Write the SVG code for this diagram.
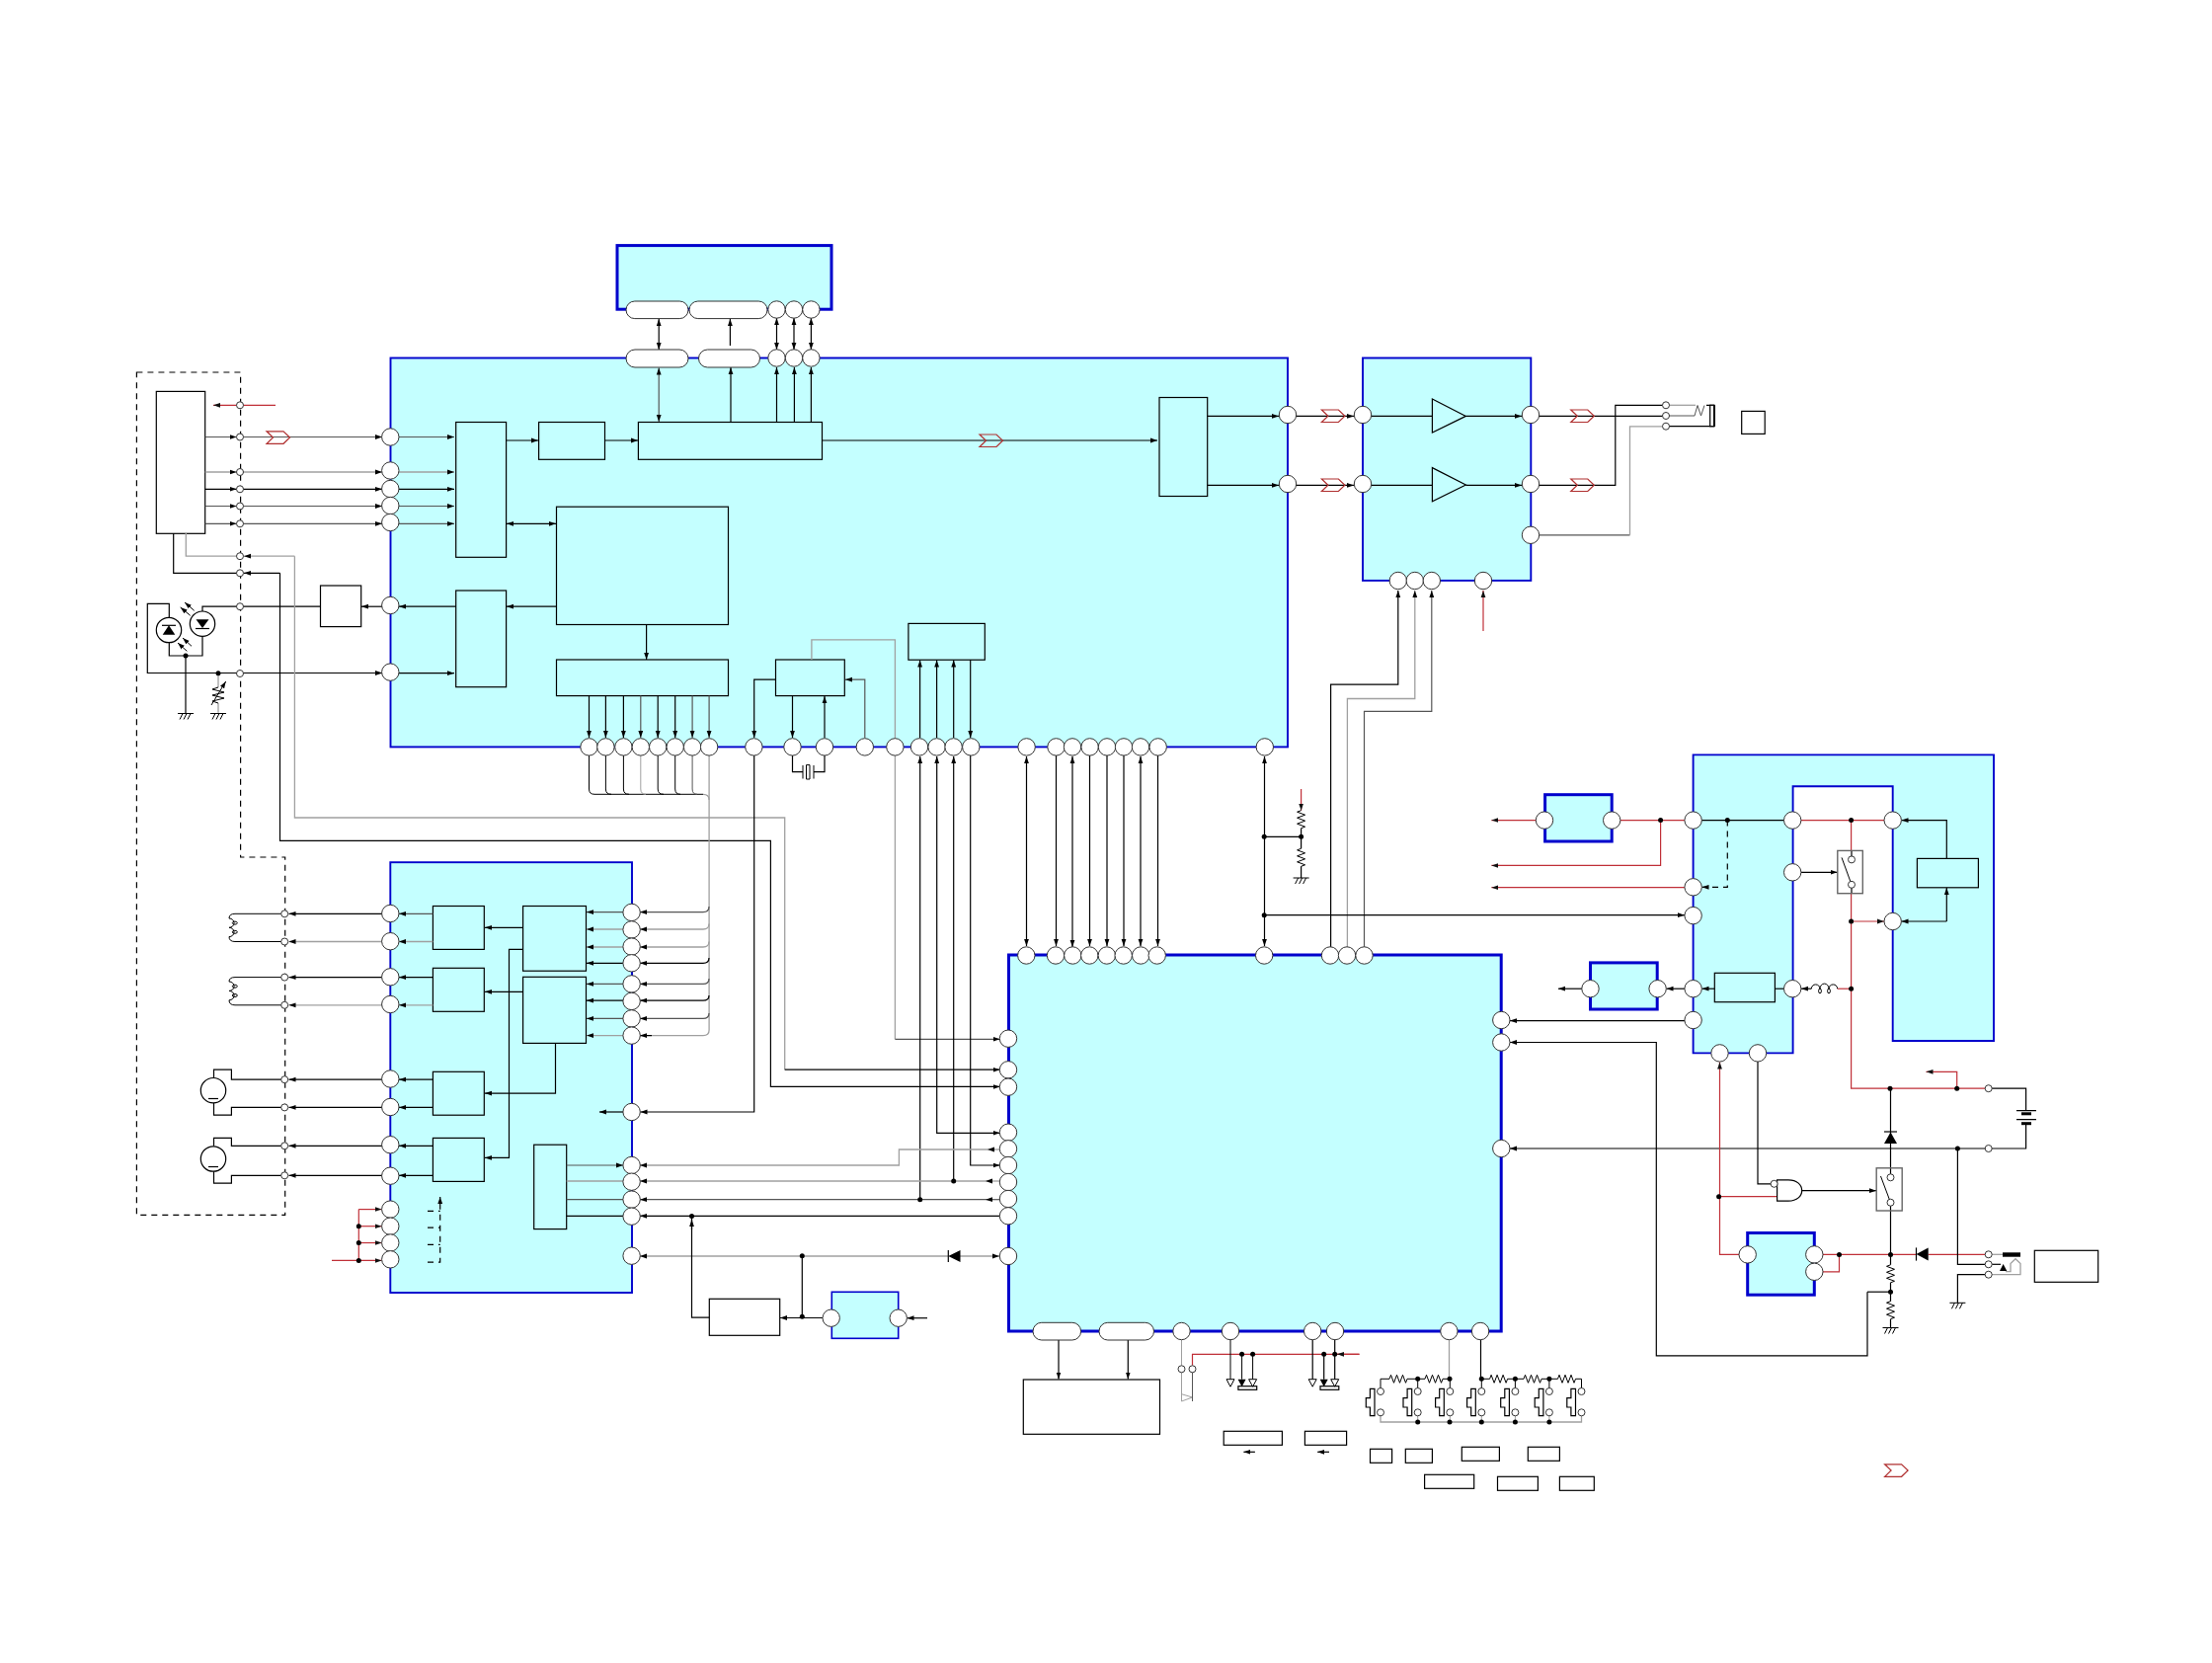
<svg xmlns="http://www.w3.org/2000/svg" width="2240" height="1684" viewBox="0 0 2240 1684">
<style>
.b{fill:#c4ffff;stroke:#0000cc;stroke-width:1.9}
.bt{fill:#c4ffff;stroke:#0000cc;stroke-width:3}
.i{fill:#c4ffff;stroke:#000;stroke-width:1.2}
.w{fill:#fff;stroke:#000;stroke-width:1.2}
.n{fill:none;stroke:#000;stroke-width:1.2}
.k{stroke:#000;stroke-width:1.2;fill:none}
.g{stroke:#a0a0a0;stroke-width:1.3;fill:none}
.d{stroke:#555;stroke-width:1.2;fill:none}
.r{stroke:#c03038;stroke-width:1.2;fill:none}
.t{stroke-width:1}
.dash{stroke-dasharray:6 5}
.ae{marker-end:url(#a)}
.as{marker-start:url(#a)}
.ar{marker-end:url(#ar)}
.p{fill:#fff;stroke:#333;stroke-width:1}
.dot{fill:#000}
.chev{fill:none;stroke:#b03030;stroke-width:1.2}
.fk{fill:#000;stroke:none}
.to{fill:#fff;stroke:#000;stroke-width:1}
</style>
<defs>
<marker id="a" markerUnits="userSpaceOnUse" markerWidth="8" markerHeight="6" refX="7" refY="3" orient="auto-start-reverse"><path d="M0 .6L7 3L0 5.4Z" fill="#000"/></marker>
<marker id="ar" markerUnits="userSpaceOnUse" markerWidth="8" markerHeight="6" refX="7" refY="3" orient="auto"><path d="M0 .6L7 3L0 5.4Z" fill="#111"/></marker>
<circle id="o" r="8.7" class="p"/>
<circle id="c" r="3.5" class="p"/>
<circle id="j" r="2.5" class="dot"/>
<path id="gnd" d="M-8 0H8M-3 0L-6 6M1 0L-2 6M5 0L2 6" stroke="#000" stroke-width="1" fill="none"/>
<path id="rv" d="M0 0L-4 1.5L4 4.5L-4 7.5L4 10.5L-4 13.5L4 16.5L0 18" stroke="#000" stroke-width="1" fill="none"/>
<path id="rh" d="M0 0L1.5-4L4.5 4L7.5-4L10.5 4L13.5-4L16.5 4L18 0" stroke="#000" stroke-width="1" fill="none"/>
<path id="key" d="M-10.6 0H-6V27.4H-10.6V18.7H-14.7V9.4H-10.6Z" class="n"/>
<path id="chev" d="M0 0H17L23.5 6.2L17 12.5H0L6.5 6.2Z" class="chev"/>
<path id="to" d="M-4 0H4L0 7.5Z" class="to"/>
<path id="tf" d="M-4 0H4L0 7.5Z" class="fk"/>
</defs>
<rect width="2240" height="1684" fill="#fff"/>

<g id="blocks">
<g id="flash-ic"><rect class="bt" x="625" y="248.6" width="217" height="64.6"/></g>
<g id="main-ic"><rect class="b" x="395.5" y="362.5" width="908.5" height="393.9"/>
<rect class="i" x="461.7" y="427.5" width="50.9" height="136.8"/>
<rect class="i" x="545.6" y="427.5" width="66.9" height="37.8"/>
<rect class="i" x="646.4" y="427.5" width="186.1" height="37.8"/>
<rect class="i" x="563.5" y="513.2" width="174" height="119.3"/>
<rect class="i" x="461.7" y="598" width="50.9" height="97.7"/>
<rect class="i" x="563.5" y="668" width="174" height="36.6"/>
<rect class="i" x="785.5" y="668" width="69.8" height="36.6"/>
<rect class="i" x="919.9" y="631.4" width="77.4" height="36.8"/>
<rect class="i" x="1174" y="402.5" width="48.7" height="100"/>
</g>
<g id="amp-ic"><rect class="b" x="1380" y="362.5" width="170.3" height="225.4"/>
<path class="i" d="M1450.4 404L1484.4 421.4L1450.4 438Z"/>
<path class="i" d="M1450.4 473.6L1484.4 491L1450.4 507.9Z"/>
</g>
<g id="driver-ic"><rect class="b" x="395.3" y="873.2" width="244.7" height="435.8"/>
<rect class="i" x="438.4" y="917.5" width="51.9" height="43.9"/>
<rect class="i" x="438.4" y="980.3" width="51.9" height="44"/>
<rect class="i" x="438.4" y="1085.3" width="51.9" height="43.9"/>
<rect class="i" x="438.4" y="1152.4" width="51.9" height="44"/>
<rect class="i" x="529.6" y="917.5" width="63.9" height="65.7"/>
<rect class="i" x="529.6" y="989.3" width="63.9" height="67.1"/>
<rect class="i" x="540.7" y="1159.2" width="33" height="85.4"/>
</g>
<g id="mcu-ic"><rect class="bt" x="1021.5" y="967" width="498.7" height="381"/></g>
<g id="power-ic"><path class="b" d="M1714.6 764.4H2019V1054H1916.7V796.3H1815.6V1066.4H1714.6Z"/>
<rect class="i" x="1941.4" y="869.4" width="62" height="29.4"/>
<rect class="i" x="1736.3" y="985.3" width="61.1" height="29.4"/>
</g>
<g id="reg-1"><rect class="bt" x="1564.6" y="804.7" width="67.6" height="47.3"/></g>
<g id="reg-2"><rect class="bt" x="1610.5" y="974.9" width="67.7" height="47.1"/></g>
<g id="reg-3"><rect class="bt" x="1769.7" y="1248.5" width="67.6" height="62.7"/></g>
<g id="reg-4"><rect class="b" style="stroke-width:1.6" x="842.3" y="1308.3" width="67.4" height="47"/></g>
<g id="pickup-connector"><rect class="w" x="158.3" y="396.4" width="49.4" height="143.9"/></g>
<g id="laser-driver"><rect class="w" x="324.5" y="593" width="41.2" height="41.6"/></g>
<g id="sdram"><rect class="w" x="1036.3" y="1397" width="138.2" height="55.3"/></g>
<g id="reset-box"><rect class="w" x="718.3" y="1315.3" width="71.4" height="37"/></g>
<g id="jack-label"><rect class="w" x="1763.7" y="416.4" width="23.5" height="23"/></g>
<g id="dc-label"><rect class="w" x="2060.3" y="1266.3" width="64.4" height="32"/></g>
<g id="key-labels">
<rect class="w" x="1239.2" y="1449.3" width="59.2" height="14"/>
<rect class="w" x="1321.4" y="1449.3" width="42.2" height="14"/>
<rect class="w" x="1387.5" y="1467.3" width="22.1" height="14"/>
<rect class="w" x="1423.3" y="1467.3" width="27.1" height="14"/>
<rect class="w" x="1480.3" y="1465.3" width="38.1" height="14"/>
<rect class="w" x="1547.3" y="1465.3" width="32.1" height="14"/>
<rect class="w" x="1442.6" y="1493.3" width="50.1" height="14"/>
<rect class="w" x="1516.5" y="1495.3" width="40.9" height="14"/>
<rect class="w" x="1579.4" y="1495.3" width="34.9" height="14"/>
</g>
</g>

<g id="connectors">
<path class="k ae as" d="M667.2 323V354"/><path class="k ae" d="M739.4 350V323"/>
<path class="k ae as" d="M786.5 322V354"/><path class="k ae as" d="M804 322V354"/><path class="k ae as" d="M821.4 322V354"/>
<path class="d ae as" d="M667.2 372.5V427"/><path class="k ae" d="M740 427.5V372"/>
<path class="k ae" d="M786.5 427.5V372"/><path class="k ae" d="M804.4 427.5V372"/><path class="k ae" d="M821.4 427.5V372"/>
<path class="r ar" d="M279 410.3H216"/>
<path class="d t ae" d="M207.7 442.5H239.5"/><path class="d t ae" d="M243 442.5H387"/><path class="d t ae" d="M404 442.5H460"/>
<path class="g ae" d="M207.7 478H239.5"/><path class="g ae" d="M243 478H387"/><path class="g ae" d="M404 478H460"/>
<path class="k ae" d="M207.7 495.3H239.5"/><path class="k ae" d="M243 495.3H387"/><path class="k ae" d="M404 495.3H460"/>
<path class="d t ae" d="M207.7 512.5H239.5"/><path class="d t ae" d="M243 512.5H387"/><path class="d t ae" d="M404 512.5H460"/>
<path class="d ae" d="M207.7 530.3H239.5"/><path class="d ae" d="M243 530.3H387"/><path class="d ae" d="M404 530.3H460"/>
<path class="k ae" d="M512.6 446H545"/><path class="k ae" d="M612.5 446H646"/>
<path class="k ae as" d="M513 530.3H563"/>
<path class="k ae" d="M832.5 446H1172"/>
<path class="k ae" d="M654.6 632.5V668"/>
<path class="k ae" d="M563.5 614.2H513"/><path class="k ae" d="M461.7 614.2H404"/><path class="k ae" d="M395 614.2H366"/>
<path class="k" d="M324.5 614.2H205V619"/>
<path class="k" d="M171.3 625.3V611.3H149.3V681.5H395"/><path class="k ae" d="M380 681.5H387"/><path class="k ae" d="M404 681.7H460"/>
<path class="k" d="M171.3 650.7V664H205V644.4"/><path class="k" d="M188 664V722.5"/>
<path class="g" d="M221 681.7V696M221 712V721.7"/>
<path class="k t" d="M221 696L215 698L227 701L215 704L227 707L215 710L221 712"/>
<path class="k t ae" d="M214 714L228.7 690"/>
<path class="k t ae" d="M192.7 623.3L182.7 615"/><path class="k t ae" d="M196.7 618.3L187 610"/>
<path class="k t ae" d="M189.3 659.3L180 651"/><path class="k t ae" d="M194 654.3L185 646"/>
<path class="g" d="M188.3 540V563.2H243"/><path class="g ae" d="M298.4 563.2H247"/>
<path class="k" d="M175.7 540V580.3H243"/><path class="k ae" d="M283.5 580.3H247"/>
<path class="g" d="M298.4 563.2V828H794.7V1083.2"/><path class="k ae" d="M794.7 1083.2H1012.5"/>
<path class="k ae" d="M283.5 580.3V851.4H780.4V1100.4H1012.5"/>
<path class="k ae" d="M596.5 704.6V747"/><path class="k ae" d="M613.4 704.6V747"/><path class="k ae" d="M631.4 704.6V747"/><path class="d ae" d="M648.8 704.6V747"/><path class="k ae" d="M666.2 704.6V747"/><path class="k ae" d="M683.7 704.6V747"/><path class="d ae" d="M701.1 704.6V747"/><path class="d ae" d="M718.1 704.6V747"/>
<path class="k t" d="M596.5 765V799Q596.5 804.3 602 804.3H712"/><path class="k t" d="M613.4 765V799Q613.4 804.3 619 804.3"/><path class="k t" d="M631.4 765V799Q631.4 804.3 637 804.3"/><path class="g t" d="M648.8 765V799Q648.8 804.3 654 804.3"/><path class="k t" d="M666.2 765V799Q666.2 804.3 672 804.3"/><path class="k t" d="M683.7 765V799Q683.7 804.3 689 804.3"/><path class="d t" d="M701.1 765V799Q701.1 804.3 706 804.3"/>
<path class="g" d="M718.1 765V1043Q718.1 1048.6 712 1048.6H648"/><path class="k ae" d="M660 1048.6H648"/>
<path class="g" d="M712 804.3Q718.1 804.3 718.1 810"/>
<path class="d ae" d="M718 918Q718 923.6 712 923.6H648"/><path class="g ae" d="M718 935.5Q718 941 712 941H648"/><path class="g ae" d="M718 953.5Q718 959 712 959H648"/><path class="k ae" d="M718 970Q718 975.3 712 975.3H648"/><path class="d ae" d="M718 991Q718 996.4 712 996.4H648"/><path class="k ae" d="M718 1008Q718 1013.2 712 1013.2H648"/><path class="d ae" d="M718 1026Q718 1031.4 712 1031.4H648"/>
<path class="k ae" d="M785.5 688.2H763.7V747"/><path class="k ae" d="M802.5 704.6V747"/><path class="k ae" d="M835 747V705"/>
<path class="d ae" d="M875.8 747V688.2H856"/>
<path class="g" d="M821.9 668V647.9H906.4V1052.3"/><path class="d ae" d="M906.4 1052.3H1012.5"/>
<path class="k" d="M802.5 765V781.7H813M824 781.7H835V765"/>
<path class="k t" d="M813 775V788.5M824 775V788.5"/>
<path class="k t" d="M816.5 774.6h3.5V789h-3.5Z"/>
<path class="k ae" d="M931.6 747V668.5"/><path class="k ae" d="M948.6 747V668.5"/><path class="k ae" d="M965.7 747V668.5"/><path class="k ae" d="M982.7 668.2V747"/>
<path class="k ae" d="M931.7 1214.7V766"/><path class="k ae as" d="M948.7 766V1147.3H1012.5"/><path class="k ae" d="M965.7 1196V766"/><path class="k ae" d="M982.7 765V1180H1012.5"/>
<path class="g ae" d="M1012 1164H1000"/><path class="g ae" d="M1000 1164H910.4V1180H648"/>
<path class="g ae" d="M1012 1196H998"/><path class="g ae" d="M998 1196H648"/>
<path class="d ae" d="M1012 1214.7H998"/><path class="d ae" d="M998 1214.7H648"/>
<path class="k ae" d="M1012.5 1231.3H648"/>
<path class="g ae" d="M960 1272H648"/><path class="g ae" d="M972 1272H1012"/>
<path class="k" d="M812.3 1272V1334"/><path class="k ae" d="M833 1334.5H790"/><path class="k ae" d="M939 1334.7H918.5"/>
<path class="k" d="M700.5 1231V1334.2H718.3"/><path class="k ae" d="M700.5 1245V1235"/>
<path class="k ae" d="M763.7 765V1126H648.5"/><path class="k ae" d="M631 1126H607"/>
<path class="d ae" d="M438.4 925.3H404"/><path class="g ae" d="M438.4 953.5H404"/><path class="k ae" d="M438.4 989.6H404"/><path class="g ae" d="M438.4 1017.8H404"/>
<path class="k ae" d="M438.4 1093.2H404"/><path class="k ae" d="M438.4 1121.4H404"/><path class="k ae" d="M438.4 1160.3H404"/><path class="k ae" d="M438.4 1190.3H404"/>
<path class="k ae" d="M395 925.3H292.5"/><path class="g ae" d="M395 953.5H292.5"/><path class="k ae" d="M395 989.6H292.5"/><path class="g ae" d="M395 1017.8H292.5"/>
<path class="k ae" d="M395 1093.2H292.5"/><path class="k ae" d="M395 1121.4H292.5"/><path class="k ae" d="M395 1160.3H292.5"/><path class="k ae" d="M395 1190.3H292.5"/>
<path class="k t" d="M288 925.3H238Q232 925.3 232 930A5 4.6 0 0 1 232 939.3A5 4.6 0 0 1 232 948.6Q232 953.5 238 953.5H288"/>
<path class="k t" d="M288 989.6H238Q232 989.6 232 994A5 4.6 0 0 1 232 1003.4A5 4.6 0 0 1 232 1012.8Q232 1017.8 238 1017.8H288"/>
<ellipse class="k t" cx="237.8" cy="934.6" rx="2.5" ry="1.5"/><ellipse class="k t" cx="237.8" cy="943.8" rx="2.5" ry="1.5"/><ellipse class="k t" cx="237.8" cy="998.7" rx="2.5" ry="1.5"/><ellipse class="k t" cx="237.8" cy="1008" rx="2.5" ry="1.5"/>
<path class="k" d="M288 1093.2H234.4V1083.2H216.5V1091.5M216.5 1117V1129.2H234.4V1121.4H288"/>
<path class="k" d="M288 1160.3H234.4V1152.4H216.5V1160.6M216.5 1186.2V1198.2H234.4V1190.3H288"/>
<path class="d ae" d="M631 923.6H594"/><path class="g ae" d="M631 941H594"/><path class="g ae" d="M631 959H594"/><path class="k ae" d="M631 975.3H594"/><path class="d ae" d="M631 996.4H594"/><path class="k ae" d="M631 1013.2H594"/><path class="d ae" d="M631 1031.4H594"/><path class="g ae" d="M631 1048.6H594"/>
<path class="k ae" d="M529.6 939.3H491"/><path class="k ae" d="M529.6 1004.3H491"/>
<path class="k ae" d="M529.6 961.4H515.5V1172.4H491"/><path class="k ae" d="M562.5 1056.4V1107.1H491"/>
<path class="d ae" d="M573.7 1180H631"/><path class="g" d="M573.7 1196H631"/><path class="d" d="M573.7 1214.6H631"/><path class="k" d="M573.7 1231.4H631"/>
<path class="r ar" d="M363.3 1224.6H386.5"/><path class="r ar" d="M363.3 1241.7H386.5"/><path class="r ar" d="M363.3 1258.5H386.5"/><path class="r ar" d="M336 1276.4H386.5"/><path class="r" d="M363.3 1276.4V1224.6"/>
<path class="k dash ae" d="M433 1278.1H445.7V1212"/><path class="k dash" d="M433 1226.4H445.7M433 1243.1H445.7M433 1260.3H445.7"/>
<path class="k ae" d="M1222.7 421.4H1295"/><path class="k ae" d="M1222.7 491.4H1295"/>
<path class="k ae" d="M1312 421.4H1371"/><path class="k ae" d="M1312 491.4H1371"/>
<path class="k" d="M1389 421.4H1450.4M1389 491.4H1450.4"/>
<path class="k ae" d="M1484.4 421.4H1541"/><path class="k ae" d="M1484.4 491.4H1541"/>
<path class="k" d="M1558 421.4H1683.5"/><path class="k" d="M1558 491.4H1635.8V410.4H1683.5"/>
<path class="d" d="M1558 541.8H1650.5"/><path class="g" d="M1650.5 541.8V431.8H1683.5"/>
<path class="g" d="M1690 410.3H1717"/><path class="d t" d="M1690 421H1716L1719 410.5L1722.5 421L1726 410.5"/>
<path class="k" d="M1690 431.7H1736M1728 410.3H1736"/>
<rect class="w" x="1731.7" y="410.3" width="4.3" height="21.4"/><path class="k" d="M1736 410.3V431.7" style="stroke-width:2"/>
<path class="k ae" d="M1347.6 959V693.2H1415.8V598"/><path class="g ae" d="M1364.4 959V707.5H1432.8V598"/><path class="d ae" d="M1381.5 959V720.3H1449.8V598"/>
<path class="r ar" d="M1502 639V598"/>
<path class="k ae as" d="M1039.5 766V958"/>
<path class="k ae" d="M1069.5 765V958"/><path class="k ae as" d="M1086 766V959"/><path class="k ae" d="M1103.5 765V958"/><path class="k ae" d="M1121 765V958"/><path class="k ae" d="M1138 765V958"/><path class="k ae as" d="M1155 766V958"/><path class="k ae" d="M1172.5 765V958"/>
<path class="k ae as" d="M1280.5 766V958"/>
<path class="k" d="M1280.2 847.3H1317.6"/><path class="k ae" d="M1280.2 926.7H1706"/>
<path class="r ar" d="M1317.6 799V820.7"/>
<use href="#rv" x="1317.6" y="820.7"/><path class="k" d="M1317.6 838.7V859.3"/>
<use href="#rv" x="1317.6" y="859.3"/><path class="k" d="M1317.6 877.3V889"/>
<path class="r ar" d="M1556 830.6H1510.4"/>
<path class="r" d="M1641 830.6H1706"/>
<path class="r ar" d="M1681.6 830.6V876.4H1510.4"/>
<path class="r ar" d="M1706 898.7H1510.4"/>
<path class="k" d="M1723 830.6H1807"/>
<path class="k dash ae" d="M1749.3 830.6V898.3H1723.5"/>
<path class="r" d="M1824 830.6H1908"/>
<path class="r" d="M1874.6 830.6V861.4M1874.6 904.7V1102.2H2010"/>
<path class="k" d="M1875 861.4V870M1875 895.8V904.7"/>
<path class="k" d="M2017 1102.2H2051.6V1124.6"/>
<path class="r ar" d="M1981.7 1102.2V1085.3H1950.5"/>
<path class="k" d="M2051.6 1137.6V1163H2017"/>
<path class="k ae" d="M2010 1163H1529"/>
<path class="r ar" d="M1874.6 933H1908"/>
<path class="k ae" d="M1971.3 869.4V830.6H1925.5"/><path class="k ae" d="M1971.3 933H1925.5"/><path class="k ae" d="M1971.3 933V899"/>
<path class="k ae" d="M1824 883.3H1860.5"/>
<path class="r" d="M1860.7 1001.2H1874.6"/>
<path class="k t" d="M1834.3 1001.2A4.4 5 0 0 1 1843 1001.2A4.4 5 0 0 1 1852 1001.2A4.4 5 0 0 1 1860.7 1001.2"/>
<ellipse class="k t" cx="1843" cy="1003.5" rx="1.4" ry="2.4"/><ellipse class="k t" cx="1852" cy="1003.5" rx="1.4" ry="2.4"/>
<path class="k ae" d="M1834.3 1001.2H1824"/>
<path class="k" d="M1797.4 1001.2H1807"/><path class="k ae" d="M1736.3 1001.2H1723.5"/><path class="k ae" d="M1706 1001.2H1687.5"/><path class="k ae" d="M1602 1001.2H1578"/>
<path class="k ae" d="M1706 1033.6H1529"/>
<path class="k ae" d="M1891 1308.2V1372.9H1677.3V1055.5H1529"/><path class="k" d="M1891 1308.2H1914.5"/>
<path class="r ar" d="M1761 1270.4H1741.5V1075.5"/><path class="r" d="M1741.5 1211.7H1799.6"/>
<path class="k" d="M1780 1075V1198.8H1793"/>
<path class="k ae" d="M1824.7 1205.7H1900"/>
<path class="r" d="M1846 1270.4H1940.5M1952.7 1270.4H2010"/><path class="r" d="M1862.5 1270.4V1287.8H1846"/>
<path class="k" d="M1914.5 1102.2V1189M1914.5 1221V1280.8M1914.5 1298.8V1317.7M1914.5 1335.7V1344.5"/>
<use href="#rv" x="1914.5" y="1280.8"/><use href="#rv" x="1914.5" y="1317.7"/>
<path class="k" d="M1982.4 1163V1280.3H2010"/>
<path class="k" d="M2010 1290.7H1982.4V1319.3"/>
<path class="g" d="M2017 1270.3H2028"/><path class="k" d="M2017 1280.3H2026"/>
<path class="g" d="M2017 1290.7H2046V1279.5L2041 1274.7L2036 1279.5V1287.7H2031"/>
<path class="k ae" d="M1072 1357V1396.5"/><path class="k ae" d="M1142.3 1357V1396.5"/>
<path class="g t" d="M1196.5 1357V1382.8M1196.5 1389.8V1419L1207.5 1415L1196.5 1411.7"/>
<path class="d t" d="M1207.5 1389.8V1419"/>
<path class="r" d="M1207.5 1382.8V1371.3H1376.5"/><path class="r ar" d="M1376.5 1371.3H1354"/>
<path class="k t" d="M1246 1357V1396.7M1257.6 1371.3V1396.7M1268.6 1371.3V1396.7"/>
<path class="k" d="M1329.2 1357V1396.7M1340.7 1371.3V1396.7M1351.7 1357V1396.7"/>
<path class="k ae" d="M1270.9 1470.3H1259.4"/><path class="k ae" d="M1346 1470.3H1334.2"/>
<path class="g" d="M1467.5 1357V1396.3"/><path class="k" d="M1499.5 1357V1396.3"/>
<path class="k t" d="M1398 1406V1396.3H1407M1425 1396.3H1443M1461 1396.3H1468.3M1435.7 1396.3V1406M1468.3 1396.3V1406M1500.3 1396.3H1508.6M1526.6 1396.3H1543M1561 1396.3H1577.5M1595.5 1396.3H1601.5V1406M1500.3 1396.3V1406M1534.4 1396.3V1406M1568.9 1396.3V1406"/>
<use href="#rh" x="1407" y="1396.3"/><use href="#rh" x="1443" y="1396.3"/><use href="#rh" x="1508.6" y="1396.3"/><use href="#rh" x="1543" y="1396.3"/><use href="#rh" x="1577.5" y="1396.3"/>
<path class="g" d="M1398 1433.5V1440H1601.5V1433.5"/>
<path class="g t" d="M1435.7 1433.5V1440M1468.3 1433.5V1440M1500.3 1433.5V1440M1534.4 1433.5V1440M1568.9 1433.5V1440"/>
</g>

<g id="symbols">
<use href="#gnd" x="188" y="722.5"/><use href="#gnd" x="221" y="722.5"/><use href="#gnd" x="1317.6" y="889"/><use href="#gnd" x="1914.5" y="1344.5"/><use href="#gnd" x="1982.4" y="1319.3"/>
<use href="#chev" x="270" y="436.8"/><use href="#chev" x="992" y="440"/><use href="#chev" x="1338.4" y="415"/><use href="#chev" x="1338.4" y="485"/><use href="#chev" x="1590.8" y="415"/><use href="#chev" x="1590.8" y="485"/><use href="#chev" x="1908.6" y="1482.8"/>
<path id="pickup-outline" class="k dash" d="M138.4 377H243.6V868H288.7V1230.3H138.4Z"/>
<g id="diode-1"><circle cx="171" cy="638" r="12.7" class="n"/><path class="fk" d="M171 633.3L177.3 642.7H164.7Z"/><path class="n" d="M164 633.3H178"/></g>
<g id="diode-2"><circle cx="205" cy="631.7" r="12.7" class="n"/><path class="fk" d="M205 636L198.5 627.3H211.5Z"/><path class="n" d="M198 636.5H212"/></g>
<g id="motor-1"><circle cx="216" cy="1104.2" r="12.7" class="n"/><path class="n" d="M211 1112.5H221"/></g>
<g id="motor-2"><circle cx="216" cy="1173.5" r="12.7" class="n"/><path class="n" d="M211 1181.5H221"/></g>
<path class="fk" d="M960.3 1272L972.5 1266V1278Z"/><path class="n" d="M960.3 1266V1278"/>
<path class="fk" d="M1914.5 1146.5L1921 1158H1908L1914.5 1146.5Z"/><path class="n" d="M1908 1146H1921"/>
<path class="fk" d="M1940.5 1270L1952.7 1263.4V1276.6Z"/><path class="n" d="M1940.5 1263.4V1276.6"/>
<rect class="fk" x="2028" y="1268.3" width="18" height="4.4"/>
<path class="fk" d="M2028.6 1280L2032.3 1287H2025Z"/>
<path class="n" d="M2042 1124.6H2062M2042 1133.6H2062"/><rect class="fk" x="2047" y="1126.3" width="10" height="3"/><rect class="fk" x="2047" y="1136.2" width="10" height="3"/>
<g id="switch-1"><rect x="1860.8" y="861.4" width="25.5" height="43.3" fill="none" stroke="#666" stroke-width="1.4"/><path class="k t" d="M1865 868.4L1875 895.8"/><use href="#c" x="1875" y="870.4"/><use href="#c" x="1875" y="895.8"/></g>
<g id="switch-2"><rect x="1900.2" y="1182.8" width="26" height="43.2" fill="none" stroke="#666" stroke-width="1.4"/><path class="k t" d="M1904.5 1191L1914.5 1217.7"/><use href="#c" x="1914.5" y="1192.3"/><use href="#c" x="1914.5" y="1217.7"/></g>
<g id="gate"><path class="n" d="M1799.6 1194.8H1811C1820 1194.8 1824.7 1200 1824.7 1205.5C1824.7 1211 1820 1216.2 1811 1216.2H1799.6Z"/><use href="#c" x="1796.6" y="1198.8"/></g>
<use href="#to" x="1246" y="1396.7"/><use href="#tf" x="1257.6" y="1396.7"/><use href="#to" x="1268.6" y="1396.7"/><use href="#to" x="1329.2" y="1396.7"/><use href="#tf" x="1340.7" y="1396.7"/><use href="#to" x="1351.7" y="1396.7"/>
<rect class="n" x="1253.9" y="1403.7" width="18.8" height="3.6"/><rect class="n" x="1337" y="1403.7" width="18.8" height="3.6"/>
<use href="#key" x="1398" y="1406.3"/><use href="#key" x="1435.7" y="1406.3"/><use href="#key" x="1468.3" y="1406.3"/><use href="#key" x="1500.3" y="1406.3"/><use href="#key" x="1534.4" y="1406.3"/><use href="#key" x="1568.9" y="1406.3"/><use href="#key" x="1601.5" y="1406.3"/>
</g>

<g id="junctions">
<use href="#j" x="188" y="664"/><use href="#j" x="221" y="681.7"/><use href="#j" x="965.7" y="1196"/><use href="#j" x="931.7" y="1214.7"/><use href="#j" x="700.5" y="1231.4"/><use href="#j" x="812.3" y="1271.7"/><use href="#j" x="812.3" y="1333.3"/>
<use href="#j" x="1280.2" y="847.3"/><use href="#j" x="1317.6" y="847.3"/><use href="#j" x="1280.2" y="926.7"/>
<use href="#j" x="363.3" y="1241.7"/><use href="#j" x="363.3" y="1258.5"/><use href="#j" x="363.3" y="1276.4"/>
<use href="#j" x="1681.6" y="830.6"/><use href="#j" x="1749.3" y="830.6"/><use href="#j" x="1874.6" y="830.6"/><use href="#j" x="1874.6" y="933"/><use href="#j" x="1874.6" y="1001.2"/><use href="#j" x="1914" y="1102.2"/><use href="#j" x="1981.7" y="1102.2"/><use href="#j" x="1982.4" y="1163"/><use href="#j" x="1740.6" y="1211.7"/><use href="#j" x="1862.5" y="1270.4"/><use href="#j" x="1914.5" y="1270.4"/><use href="#j" x="1914.5" y="1308.2"/>
<use href="#j" x="1257.6" y="1371.3"/><use href="#j" x="1268.6" y="1371.3"/><use href="#j" x="1340.7" y="1371.3"/><use href="#j" x="1351.7" y="1371.3"/>
<use href="#j" x="1435.7" y="1396.3"/><use href="#j" x="1468" y="1396.3"/><use href="#j" x="1500.3" y="1396.3"/><use href="#j" x="1534.4" y="1396.3"/><use href="#j" x="1568.9" y="1396.3"/>
<use href="#j" x="1435.7" y="1440"/><use href="#j" x="1468" y="1440"/><use href="#j" x="1500.3" y="1440"/><use href="#j" x="1534.4" y="1440"/><use href="#j" x="1568.9" y="1440"/>
</g>

<g id="terminals">
<use href="#c" x="243" y="410.3"/><use href="#c" x="243" y="442.5"/><use href="#c" x="243" y="478"/><use href="#c" x="243" y="495.3"/><use href="#c" x="243" y="512.5"/><use href="#c" x="243" y="530.3"/><use href="#c" x="243" y="563.2"/><use href="#c" x="243" y="580.3"/><use href="#c" x="243" y="614.2"/><use href="#c" x="243" y="682"/>
<use href="#c" x="288.2" y="925.3"/><use href="#c" x="288.2" y="953.5"/><use href="#c" x="288.2" y="989.6"/><use href="#c" x="288.2" y="1017.8"/><use href="#c" x="288.2" y="1093.2"/><use href="#c" x="288.2" y="1121.4"/><use href="#c" x="288.2" y="1160.3"/><use href="#c" x="288.2" y="1190.3"/>
<use href="#c" x="1687" y="410.3"/><use href="#c" x="1687" y="421"/><use href="#c" x="1687" y="431.7"/>
<use href="#c" x="2013.7" y="1102.2"/><use href="#c" x="2013.7" y="1163"/><use href="#c" x="2013.7" y="1270.3"/><use href="#c" x="2013.7" y="1280.3"/><use href="#c" x="2013.7" y="1290.7"/>
<use href="#c" x="1196.5" y="1386.3"/><use href="#c" x="1207.5" y="1386.3"/>
<use href="#c" x="1398" y="1409"/><use href="#c" x="1435.7" y="1409"/><use href="#c" x="1468.3" y="1409"/><use href="#c" x="1500.3" y="1409"/><use href="#c" x="1534.4" y="1409"/><use href="#c" x="1568.9" y="1409"/><use href="#c" x="1601.5" y="1409"/>
<use href="#c" x="1398" y="1430.3"/><use href="#c" x="1435.7" y="1430.3"/><use href="#c" x="1468.3" y="1430.3"/><use href="#c" x="1500.3" y="1430.3"/><use href="#c" x="1534.4" y="1430.3"/><use href="#c" x="1568.9" y="1430.3"/><use href="#c" x="1601.5" y="1430.3"/>
</g>

<g id="pins">
<g id="pills">
<rect class="p" x="634" y="305" width="63" height="17.6" rx="8.8"/><rect class="p" x="698" y="305" width="79" height="17.6" rx="8.8"/>
<rect class="p" x="634" y="354" width="63" height="18" rx="9"/><rect class="p" x="707.5" y="354" width="62" height="18" rx="9"/>
<rect class="p" x="1046" y="1339.3" width="48.6" height="17.7" rx="8.8"/><rect class="p" x="1113" y="1339.3" width="55.5" height="17.7" rx="8.8"/>
</g>
<use href="#o" x="786.5" y="313.5"/><use href="#o" x="804" y="313.5"/><use href="#o" x="821.4" y="313.5"/>
<use href="#o" x="786.5" y="362.5"/><use href="#o" x="804" y="362.5"/><use href="#o" x="821.4" y="362.5"/>
<use href="#o" x="395.3" y="442.5"/><use href="#o" x="395.3" y="476.5"/><use href="#o" x="395.3" y="495"/><use href="#o" x="395.3" y="512"/><use href="#o" x="395.3" y="529"/><use href="#o" x="395.3" y="613"/><use href="#o" x="395.3" y="680.6"/>
<use href="#o" x="596.5" y="756.4"/><use href="#o" x="613.4" y="756.4"/><use href="#o" x="631.4" y="756.4"/><use href="#o" x="648.8" y="756.4"/><use href="#o" x="666.2" y="756.4"/><use href="#o" x="683.7" y="756.4"/><use href="#o" x="701.1" y="756.4"/><use href="#o" x="718.1" y="756.4"/>
<use href="#o" x="763.4" y="756.4"/><use href="#o" x="802.5" y="756.4"/><use href="#o" x="835" y="756.4"/><use href="#o" x="875.8" y="756.4"/><use href="#o" x="906.4" y="756.4"/><use href="#o" x="931" y="756.4"/><use href="#o" x="948.6" y="756.4"/><use href="#o" x="965.6" y="756.4"/><use href="#o" x="983.3" y="756.4"/>
<use href="#o" x="1039.6" y="756.4"/><use href="#o" x="1069.5" y="756.4"/><use href="#o" x="1086" y="756.4"/><use href="#o" x="1103.6" y="756.4"/><use href="#o" x="1121" y="756.4"/><use href="#o" x="1138" y="756.4"/><use href="#o" x="1155" y="756.4"/><use href="#o" x="1172.7" y="756.4"/><use href="#o" x="1280.8" y="756.4"/>
<use href="#o" x="1304" y="420"/><use href="#o" x="1304" y="490"/><use href="#o" x="1380" y="420"/><use href="#o" x="1380" y="490"/><use href="#o" x="1550" y="420"/><use href="#o" x="1550" y="490"/><use href="#o" x="1550" y="541.8"/>
<use href="#o" x="1415.8" y="588"/><use href="#o" x="1432.8" y="588"/><use href="#o" x="1449.8" y="588"/><use href="#o" x="1502" y="588"/>
<use href="#o" x="395.3" y="925"/><use href="#o" x="395.3" y="953.2"/><use href="#o" x="395.3" y="989.3"/><use href="#o" x="395.3" y="1017"/><use href="#o" x="395.3" y="1092.5"/><use href="#o" x="395.3" y="1121"/><use href="#o" x="395.3" y="1159.2"/><use href="#o" x="395.3" y="1190.7"/><use href="#o" x="395.3" y="1224.6"/><use href="#o" x="395.3" y="1241.7"/><use href="#o" x="395.3" y="1258.5"/><use href="#o" x="395.3" y="1275.3"/>
<use href="#o" x="639.6" y="923.9"/><use href="#o" x="639.6" y="941.4"/><use href="#o" x="639.6" y="958.6"/><use href="#o" x="639.6" y="975.3"/><use href="#o" x="639.6" y="996.4"/><use href="#o" x="639.6" y="1013.9"/><use href="#o" x="639.6" y="1031.4"/><use href="#o" x="639.6" y="1048.6"/><use href="#o" x="639.6" y="1126"/><use href="#o" x="639.6" y="1180"/><use href="#o" x="639.6" y="1196.7"/><use href="#o" x="639.6" y="1214.6"/><use href="#o" x="639.6" y="1231.7"/><use href="#o" x="639.6" y="1271.7"/>
<use href="#o" x="1039.3" y="967.5"/><use href="#o" x="1069" y="967.5"/><use href="#o" x="1086.3" y="967.5"/><use href="#o" x="1103.3" y="967.5"/><use href="#o" x="1120.8" y="967.5"/><use href="#o" x="1137.7" y="967.5"/><use href="#o" x="1155.2" y="967.5"/><use href="#o" x="1171.7" y="967.5"/><use href="#o" x="1280.2" y="967.5"/><use href="#o" x="1347" y="967.5"/><use href="#o" x="1364" y="967.5"/><use href="#o" x="1381.5" y="967.5"/>
<use href="#o" x="1021" y="1051.7"/><use href="#o" x="1021" y="1083.3"/><use href="#o" x="1021" y="1100.7"/><use href="#o" x="1021" y="1146.7"/><use href="#o" x="1021" y="1163.3"/><use href="#o" x="1021" y="1180"/><use href="#o" x="1021" y="1197"/><use href="#o" x="1021" y="1214"/><use href="#o" x="1021" y="1231.3"/><use href="#o" x="1021" y="1272"/>
<use href="#o" x="1520.3" y="1033"/><use href="#o" x="1520.3" y="1055.5"/><use href="#o" x="1520.3" y="1163"/>
<use href="#o" x="1196.5" y="1348"/><use href="#o" x="1246" y="1348"/><use href="#o" x="1329.2" y="1348"/><use href="#o" x="1352" y="1348"/><use href="#o" x="1467.4" y="1348"/><use href="#o" x="1499.1" y="1348"/>
<use href="#o" x="1714.6" y="830.6"/><use href="#o" x="1815.2" y="830.6"/><use href="#o" x="1916.7" y="830.6"/><use href="#o" x="1815.2" y="883.3"/><use href="#o" x="1714.6" y="898.3"/><use href="#o" x="1714.6" y="927.1"/><use href="#o" x="1916.7" y="933"/><use href="#o" x="1714.6" y="1001.2"/><use href="#o" x="1815.2" y="1001.2"/><use href="#o" x="1714.6" y="1033"/><use href="#o" x="1741.5" y="1066.4"/><use href="#o" x="1780" y="1066.4"/>
<use href="#o" x="1564" y="830.6"/><use href="#o" x="1632.2" y="830.6"/><use href="#o" x="1610.5" y="1001.2"/><use href="#o" x="1678.6" y="1001.2"/>
<use href="#o" x="1769.7" y="1270.4"/><use href="#o" x="1837.3" y="1270.4"/><use href="#o" x="1837.3" y="1287.8"/>
<use href="#o" x="841.7" y="1334.7"/><use href="#o" x="909.7" y="1334.7"/>
</g>
</svg>
